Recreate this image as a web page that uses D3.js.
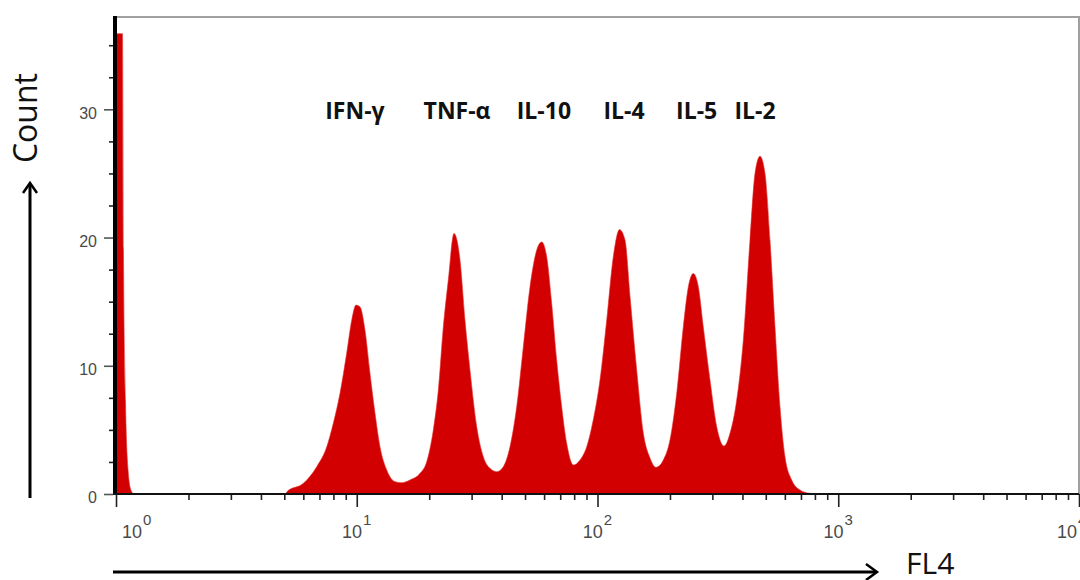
<!DOCTYPE html>
<html>
<head>
<meta charset="utf-8">
<script src="https://cdn.jsdelivr.net/npm/d3@7"></script>
<style>
  html, body { margin: 0; padding: 0; background: #fff; }
  svg { display: block; }
</style>
</head>
<body>
<div id="chart"></div>
<script>
// ─── DATA ────────────────────────────────────────────────────────────────────
// FL4 channel values (log axis) and the event count
const fl4 = [
  1.000, 1.064, 1.074, 1.095, 1.122, 1.154, 1.188, 5.04,
  5.13, 6.00, 6.82, 7.50, 7.99, 8.52, 9.08, 9.53, 9.93, 10.31,
  10.82, 11.35, 11.91, 12.49, 13.32, 14.42, 15.37, 16.64, 18.31, 19.53,
  20.80, 21.82, 22.88, 24.0, 25.35, 26.85, 28.16, 29.54, 31.50, 33.55,
  35.77, 38.14, 40.62, 43.31, 46.17, 49.19, 52.44, 55.91, 58.65, 61.52,
  64.53, 67.68, 71.00, 74.47, 79.37, 84.6, 90.2, 96.0, 102.4, 109.2,
  116.3, 123.4, 130.1, 136.5, 145.5, 155.0, 165.2, 175.0, 187.7, 200.0,
  213.3, 227.2, 238.4, 250.0, 262.3, 275.0, 293.3, 312.7, 335.3, 355.1,
  378.6, 403.3, 429.9, 451.0, 473.2, 496.3, 520.6, 546.1, 572.8, 600.8,
  640.7, 693.6, 763.2, 839.5, 10000
];
const counts = [
  35.9, 35.9, 19.0, 7.3, 1.9, 0.3, 0, 0,
  0.18, 0.83, 2.13, 3.66, 5.51, 7.85, 10.97, 13.56, 14.73, 14.6,
  12.78, 9.41, 6.29, 3.69, 1.87, 0.96, 0.88, 1.09, 1.61, 2.52,
  4.99, 8.11, 13.0, 16.68, 20.32, 18.24, 13.56, 9.66, 5.25, 2.91,
  2.0, 1.74, 2.13, 3.69, 6.80, 11.48, 16.16, 19.02, 19.66, 18.5,
  14.86, 10.44, 6.80, 3.95, 2.26, 2.65, 3.69, 5.77, 8.89, 13.56,
  18.5, 20.62, 19.8, 15.4, 9.66, 4.75, 2.81, 2.08, 2.65, 4.21,
  7.85, 13.04, 16.16, 17.2, 16.16, 13.04, 8.89, 5.25, 3.74, 4.73,
  7.33, 12.0, 19.8, 25.0, 26.34, 25.0, 19.8, 13.04, 6.80, 2.91,
  1.09, 0.31, 0.05, 0, 0
];

// cytokine bead populations and where their names sit on the FL4 axis
const beadNames = ["IFN-γ", "TNF-α", "IL-10", "IL-4", "IL-5", "IL-2"];
const beadFl4 = [9.83, 26.1, 59.9, 128.8, 258.2, 450.9];

// axis ticks
const xDecades = [1, 10, 100, 1000, 10000];
const xExponents = ["0", "1", "2", "3", "4"];
const yTickLabels = [0, 10, 20, 30];

// ─── LAYOUT ──────────────────────────────────────────────────────────────────
const W = 1080, H = 580;
const plot = { left: 116, right: 1079, top: 17, bottom: 494 };
const labelBaseline = 119;

const svg = d3.select("#chart").append("svg")
  .attr("width", W).attr("height", H);

const x = d3.scaleLog().domain([1, 10000]).range([plot.left, plot.right]);
const y = d3.scaleLinear().domain([0, 37.2]).range([plot.bottom, plot.top]);

const data = fl4.map((v, i) => ({ v, c: counts[i] }));

// clip to the plot frame
svg.append("clipPath").attr("id", "plotClip")
  .append("rect")
  .attr("x", plot.left).attr("y", plot.top)
  .attr("width", plot.right - plot.left)
  .attr("height", plot.bottom - plot.top);

// 1. histogram area
const area = d3.area()
  .x(d => x(d.v))
  .y0(y(0))
  .y1(d => y(d.c))
  .curve(d3.curveMonotoneX);

svg.append("path")
  .datum(data)
  .attr("clip-path", "url(#plotClip)")
  .attr("fill", "#d20000")
  .attr("stroke", "#e03030")
  .attr("stroke-width", 0.6)
  .attr("d", area);

// 2. frame: grey top/right, black left/bottom
svg.append("path")
  .attr("d", `M${plot.left},${plot.top}H${plot.right}V${plot.bottom}`)
  .attr("fill", "none")
  .attr("stroke", "#a0a0a0")
  .attr("stroke-width", 2);

// 3. X axis (log) – minor and major ticks
const minorX = x.ticks().filter(t => !xDecades.includes(t));
svg.append("g")
  .attr("transform", `translate(0,${plot.bottom})`)
  .call(d3.axisBottom(x).tickValues(minorX).tickSize(6).tickFormat(""))
  .call(g => g.select(".domain").remove())
  .call(g => g.selectAll("line").attr("stroke", "#222").attr("stroke-width", 1.6));

svg.append("g")
  .attr("transform", `translate(0,${plot.bottom})`)
  .call(d3.axisBottom(x).tickValues(xDecades).tickSize(13).tickFormat(""))
  .call(g => g.select(".domain").remove())
  .call(g => g.selectAll("line").attr("stroke", "#222").attr("stroke-width", 1.6));

// decade labels: 10 with superscript exponent
const xLab = svg.append("g")
  .style("font-family", "'Liberation Sans', Arial, sans-serif")
  .attr("fill", "#4a4a4a");
xDecades.forEach((t, i) => {
  let cx = x(t);
  const txt = xLab.append("text")
    .attr("x", cx)
    .attr("y", 538)
    .attr("text-anchor", "middle")
    .style("font-size", "18px");
  txt.append("tspan").text("10");
  txt.append("tspan")
    .attr("dy", -13)
    .attr("dx", 1)
    .style("font-size", "15px")
    .text(xExponents[i]);
  if (i === 0) txt.attr("text-anchor", "start").attr("x", cx + 6);
  if (i === xDecades.length - 1) txt.attr("text-anchor", "start").attr("x", cx - 22);
});

// 4. Y axis – minor every 2.5, major every 10
const minorY = d3.range(0, 37.5, 2.5).filter(t => !yTickLabels.includes(t));
svg.append("g")
  .attr("transform", `translate(${plot.left - 3},0)`)
  .call(d3.axisLeft(y).tickValues(minorY).tickSize(4).tickFormat(""))
  .call(g => g.select(".domain").remove())
  .call(g => g.selectAll("line").attr("stroke", "#222").attr("stroke-width", 1.6));

svg.append("g")
  .attr("transform", `translate(${plot.left - 3},0)`)
  .call(d3.axisLeft(y).tickValues(yTickLabels).tickSize(9).tickPadding(7))
  .call(g => g.select(".domain").remove())
  .call(g => g.selectAll("line").attr("stroke", "#555").attr("stroke-width", 1.6))
  .call(g => g.selectAll("text")
    .attr("fill", "#4a4a4a")
    .attr("dy", "0.55em")
    .style("font-family", "'Liberation Sans', Arial, sans-serif")
    .style("font-size", "16px"));

// thick black left spine and bottom spine on top of the fill
svg.append("line")
  .attr("x1", plot.left - 1).attr("x2", plot.left - 1)
  .attr("y1", plot.top - 1).attr("y2", plot.bottom + 1)
  .attr("stroke", "#000").attr("stroke-width", 4);
svg.append("line")
  .attr("x1", plot.left - 3).attr("x2", plot.right)
  .attr("y1", plot.bottom).attr("y2", plot.bottom)
  .attr("stroke", "#111").attr("stroke-width", 2);

// 5. bead population names
svg.append("g")
  .selectAll("text")
  .data(beadNames)
  .join("text")
  .attr("x", (d, i) => x(beadFl4[i]))
  .attr("y", labelBaseline)
  .attr("text-anchor", "middle")
  .style("font-family", "'Open Sans', sans-serif")
  .style("font-weight", "700")
  .style("font-size", "23px")
  .attr("fill", "#111")
  .text(d => d);

// 6. axis titles with arrows
const arrows = svg.append("g")
  .attr("fill", "none")
  .attr("stroke", "#000")
  .attr("stroke-width", 3);

// vertical arrow for Count
arrows.append("path").attr("d", "M30,498V184");
arrows.append("path").attr("d", "M23,193L30,183L37,193").attr("stroke-width", 2.5);

// horizontal arrow for FL4
arrows.append("path").attr("d", "M113,572H876");
arrows.append("path").attr("d", "M866,564L877,572L866,580").attr("stroke-width", 2.5);

svg.append("text")
  .attr("transform", "translate(37,118) rotate(-90)")
  .attr("text-anchor", "middle")
  .style("font-family", "'Open Sans', sans-serif")
  .style("font-size", "32px")
  .attr("fill", "#111")
  .text("Count");

svg.append("text")
  .attr("x", 906)
  .attr("y", 574)
  .style("font-family", "'Open Sans', sans-serif")
  .style("font-size", "30px")
  .attr("fill", "#111")
  .text("FL4");
</script>
</body>
</html>
